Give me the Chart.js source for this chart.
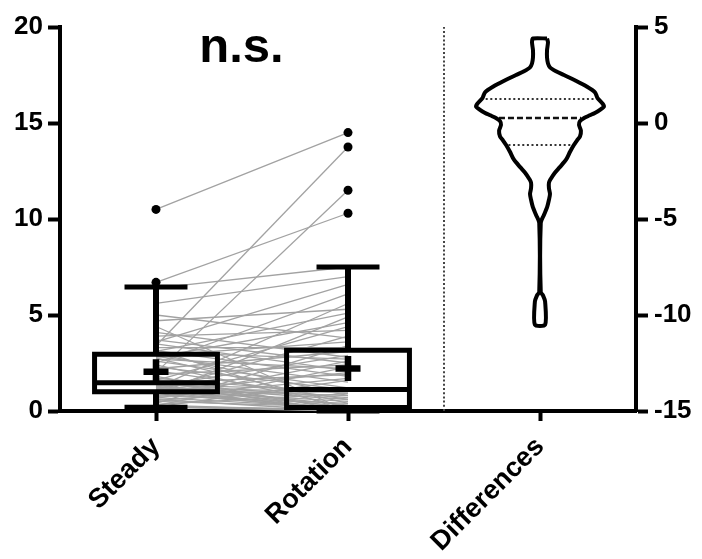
<!DOCTYPE html>
<html>
<head>
<meta charset="utf-8">
<script src="https://cdn.jsdelivr.net/npm/chart.js@4.4.1/dist/chart.umd.min.js"></script>
<style>
  html, body { margin: 0; padding: 0; background: #fff; }
  #wrap { width: 702px; height: 559px; }
</style>
</head>
<body>
<div id="wrap"><canvas id="chart" width="702" height="559"></canvas></div>
<script>
// ---- data ----
const categories = ['Steady', 'Rotation', 'Differences'];
const leftTicks = [0, 5, 10, 15, 20];
const rightTicks = [-15, -10, -5, 0, 5];

// paired measurements (same subject, steady vs rotation)
const steady = [
  0.2, 0.2, 0.22, 0.25, 0.28, 0.3, 0.35, 0.4, 0.5, 0.55, 0.6, 0.65, 0.7, 0.75, 0.8, 0.85, 0.9, 0.95,
  1.0, 1.02, 1.05, 1.08, 1.1, 1.12, 1.15, 1.18, 1.2, 1.22, 1.25, 1.28, 1.3, 1.33, 1.36, 1.39, 1.42, 1.45,
  1.5, 1.6, 1.7, 1.8, 1.9, 2.0, 2.1, 2.2, 2.3, 2.4, 2.5, 2.6, 2.7, 2.75, 2.8, 2.85, 2.9, 3.0,
  3.05, 3.1, 3.15, 3.2, 3.3, 3.4, 3.5, 3.6, 3.7, 3.9, 4.1, 4.4, 4.7, 5.0, 5.6, 6.4, 6.7, 10.5
];
const rotation = [
  0.0, 0.1, 1.6, 0.05, 2.3, 0.0, 0.9, 3.4, 0.2, 1.2, 0.0, 2.6, 0.15, 1.7, 0.4, 4.9, 0.1, 1.0,
  0.0, 2.0, 0.1, 0.5, 3.9, 0.05, 0.8, 0.0, 1.0, 5.6, 0.2, 0.6, 2.9, 0.3, 1.1, 0.0, 0.7, 1.9,
  0.15, 4.4, 0.9, 0.0, 2.4, 11.5, 0.6, 3.1, 1.1, 0.2, 6.1, 1.2, 2.2, 0.4, 4.6, 1.5, 3.6, 0.8,
  2.7, 5.1, 1.8, 0.0, 3.3, 13.75, 2.1, 6.6, 2.5, 4.2, 2.8, 0.0, 5.3, 3.8, 7.0, 7.5, 10.3, 14.5
];

// box summaries for Steady and Rotation
const whiskerLow  = [0.2, 0.0];
const quartile1   = [1.0, 0.18];
const medians     = [1.47, 1.12];
const quartile3   = [2.96, 3.17];
const whiskerHigh = [6.46, 7.5];
const means       = [2.05, 2.22];

// distribution of the differences (right axis): level and relative density
const diffLevels  = [4.4, 4.2, 3.8, 3.4, 3.1, 2.9, 2.7, 2.5, 2.2, 1.9, 1.6, 1.3, 1.0, 0.85, 0.6, 0.4, 0.26, 0.1,
                     -0.1, -0.4, -0.7, -0.9, -1.15, -1.5, -1.9, -2.3, -2.6, -2.9, -3.1, -3.4, -3.7, -4.0,
                     -4.4, -4.8, -5.2, -8.8, -9.0, -9.3, -10.5];
const diffDensity = [0.11, 0.125, 0.11, 0.11, 0.125, 0.156, 0.25, 0.375, 0.56, 0.73, 0.86, 0.9, 0.98, 1.0, 0.9, 0.78, 0.69, 0.625,
                     0.61, 0.64, 0.625, 0.58, 0.53, 0.47, 0.41, 0.31, 0.23, 0.17, 0.14, 0.14, 0.156, 0.14,
                     0.11, 0.06, 0.012, 0.012, 0.05, 0.08, 0.08];
const diffQuartiles = [-1.15, 0.26, 1.25];   // Q1, median, Q3

const significance = 'n.s.';

// ---- layout / style constants ----
const BOX_HALF = 0.32;
const CAP_HALF = 0.164;
const VIOLIN_HALF = 0.333;
const VIOLIN_X = 2;
const SEPARATOR_X = 1.5;
const SIG_POS = { x: 0.445, y: 18.18 };
const FONT = '"Liberation Sans", Arial, Helvetica, sans-serif';

const datasets = [];
const seg = (pts, extra) => Object.assign({
  type: 'line', data: pts, borderColor: '#000', borderWidth: 5, pointRadius: 0,
  fill: false, clip: false, yAxisID: 'y', order: 5, borderCapStyle: 'butt'
}, extra || {});

// paired connecting lines
steady.forEach((s, i) => {
  datasets.push(seg([{ x: 0, y: s }, { x: 1, y: rotation[i] }],
    { borderColor: '#a2a2a2', borderWidth: 1.3, order: 20 }));
});

// boxes, whiskers, medians, means, outliers
[steady, rotation].forEach((vals, g) => {
  const l = g - BOX_HALF, r = g + BOX_HALF;
  datasets.push(seg([{ x: g, y: quartile1[g] }, { x: r, y: quartile1[g] }, { x: r, y: quartile3[g] },
                     { x: l, y: quartile3[g] }, { x: l, y: quartile1[g] }, { x: g, y: quartile1[g] }],
                    { borderJoinStyle: 'miter' }));
  datasets.push(seg([{ x: l, y: medians[g] }, { x: r, y: medians[g] }]));
  datasets.push(seg([{ x: g, y: quartile3[g] }, { x: g, y: whiskerHigh[g] }], { borderWidth: 6 }));
  datasets.push(seg([{ x: g, y: quartile1[g] }, { x: g, y: whiskerLow[g] }], { borderWidth: 6 }));
  datasets.push(seg([{ x: g - CAP_HALF, y: whiskerHigh[g] }, { x: g + CAP_HALF, y: whiskerHigh[g] }]));
  datasets.push(seg([{ x: g - CAP_HALF, y: whiskerLow[g] }, { x: g + CAP_HALF, y: whiskerLow[g] }]));
  datasets.push({
    type: 'scatter', data: [{ x: g, y: means[g] }], yAxisID: 'y', clip: false, order: 2,
    pointStyle: 'cross', pointRadius: 12.5, borderWidth: 6.5, borderColor: '#000', backgroundColor: '#000'
  });
  const outliers = vals.filter(v => v > whiskerHigh[g] || v < whiskerLow[g]).map(v => ({ x: g, y: v }));
  datasets.push({
    type: 'scatter', data: outliers, yAxisID: 'y', clip: false, order: 1,
    pointStyle: 'circle', pointRadius: 4.5, borderWidth: 0, backgroundColor: '#000', borderColor: '#000'
  });
});

// separator between paired data and differences
datasets.push(seg([{ x: SEPARATOR_X, y: 0 }, { x: SEPARATOR_X, y: 20 }],
  { borderColor: '#444', borderWidth: 2, borderDash: [2, 2.2], order: 15 }));

// violin outline of the differences
const rightSide = diffLevels.map((v, i) => ({ x: VIOLIN_X + diffDensity[i] * VIOLIN_HALF, y: v }));
const leftSide = diffLevels.map((v, i) => ({ x: VIOLIN_X - diffDensity[i] * VIOLIN_HALF, y: v })).reverse();
datasets.push(seg(rightSide.concat(leftSide, [rightSide[0]]),
  { yAxisID: 'y2', borderWidth: 4, tension: 0.25, order: 3, borderJoinStyle: 'round' }));

function densityAt(v) {
  for (let i = 0; i < diffLevels.length - 1; i++) {
    const a = diffLevels[i], b = diffLevels[i + 1];
    if (v <= a && v >= b) {
      const t = (a - v) / (a - b);
      return diffDensity[i] + t * (diffDensity[i + 1] - diffDensity[i]);
    }
  }
  return 0;
}
diffQuartiles.forEach((q, k) => {
  const w = densityAt(q) * VIOLIN_HALF * 0.93;
  const isMedian = k === 1;
  datasets.push(seg([{ x: VIOLIN_X - w, y: q }, { x: VIOLIN_X + w, y: q }], {
    yAxisID: 'y2', order: 4,
    borderColor: isMedian ? '#111' : '#333',
    borderWidth: isMedian ? 2.5 : 2,
    borderDash: isMedian ? [6, 3] : [2, 2.6]
  }));
});

const significancePlugin = {
  id: 'significance',
  afterDatasetsDraw(chart) {
    const { ctx, scales } = chart;
    ctx.save();
    ctx.font = 'bold 49px ' + FONT;
    ctx.fillStyle = '#000';
    ctx.textAlign = 'center';
    ctx.textBaseline = 'alphabetic';
    ctx.fillText(significance, scales.x.getPixelForValue(SIG_POS.x), scales.y.getPixelForValue(SIG_POS.y));
    ctx.restore();
  }
};

const tickFont = { family: FONT, size: 26, weight: 'bold' };
const catFont = { family: FONT, size: 27, weight: 'bold' };
const axisGrid = (len) => ({ drawOnChartArea: false, drawTicks: true, tickLength: len, tickWidth: 4, color: '#000' });
const axisBorder = { display: true, width: 4, color: '#000' };

new Chart(document.getElementById('chart'), {
  data: { datasets },
  options: {
    responsive: false,
    devicePixelRatio: 1,
    animation: false,
    events: [],
    layout: { padding: { top: 27, left: 0, right: 0, bottom: 0 } },
    plugins: { legend: { display: false }, tooltip: { enabled: false } },
    scales: {
      x: {
        type: 'linear', min: -0.5, max: 2.5,
        afterBuildTicks: (s) => { s.ticks = categories.map((_, i) => ({ value: i })); },
        afterFit: (s) => { s.height = 148; },
        ticks: {
          autoSkip: false, minRotation: 45, maxRotation: 45, padding: 10, color: '#000', font: catFont,
          callback: (v) => categories[v]
        },
        grid: axisGrid(10),
        border: axisBorder
      },
      y: {
        type: 'linear', position: 'left', min: 0, max: 20,
        afterBuildTicks: (s) => { s.ticks = leftTicks.map(v => ({ value: v })); },
        afterFit: (s) => { s.width = 60; },
        ticks: { padding: 5, color: '#000', font: tickFont },
        grid: axisGrid(12),
        border: axisBorder
      },
      y2: {
        type: 'linear', position: 'right', min: -15, max: 5,
        afterBuildTicks: (s) => { s.ticks = rightTicks.map(v => ({ value: v })); },
        afterFit: (s) => { s.width = 66; },
        ticks: { padding: 6, color: '#000', font: tickFont },
        grid: axisGrid(12),
        border: axisBorder
      }
    }
  },
  plugins: [significancePlugin]
});
</script>
</body>
</html>
